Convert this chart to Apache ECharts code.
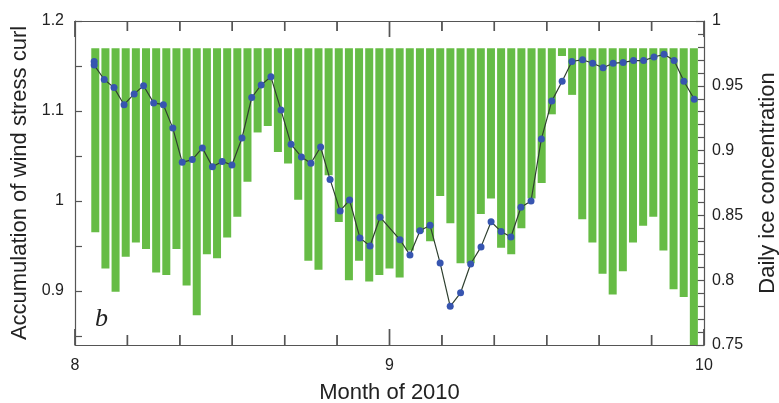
<!DOCTYPE html>
<html>
<head>
<meta charset="utf-8">
<script src="https://cdn.jsdelivr.net/npm/echarts@6/dist/echarts.min.js"></script>
<style>
  html, body { margin: 0; padding: 0; background: #fff; }
  #chart { width: 779px; height: 403px; }
</style>
</head>
<body>
<div id="chart"></div>
<script>
// Daily ice concentration (right axis), one bar per day, hanging from the top level
const barDays = [];
for (let k = 1; k <= 60; k++) barDays.push(k);
const iceConcentration = [
  0.837, 0.809, 0.791, 0.818, 0.829, 0.824, 0.806, 0.804, 0.824, 0.796,
  0.773, 0.820, 0.817, 0.833, 0.849, 0.876, 0.914, 0.919, 0.899, 0.890,
  0.862, 0.815, 0.808, 0.881, 0.845, 0.800, 0.815, 0.799, 0.804, 0.809,
  0.802, 0.823, 0.837, 0.830, 0.865, 0.844, 0.813, 0.813, 0.851, 0.863,
  0.825, 0.820, 0.840, 0.863, 0.875, 0.928, 0.973, 0.943, 0.847, 0.829,
  0.805, 0.789, 0.807, 0.829, 0.842, 0.849, 0.823, 0.793, 0.787, 0.750
];
const barTop = 0.979;

// Accumulated wind stress curl (left axis): month position and value
const curlMonth = [
  8.061, 8.061, 8.093, 8.124, 8.156, 8.188, 8.218, 8.250, 8.281, 8.311,
  8.341, 8.373, 8.405, 8.437, 8.468, 8.499, 8.531, 8.562, 8.592, 8.623,
  8.655, 8.687, 8.720, 8.750, 8.781, 8.811, 8.843, 8.873, 8.906, 8.938,
  8.970, 9.033, 9.065, 9.097, 9.129, 9.161, 9.193, 9.226, 9.258, 9.291,
  9.323, 9.355, 9.386, 9.418, 9.450, 9.483, 9.516, 9.549, 9.580, 9.614,
  9.646, 9.679, 9.711, 9.743, 9.776, 9.808, 9.841, 9.873, 9.905, 9.936,
  9.969
];
const curlValue = [
  1.155, 1.151, 1.135, 1.126, 1.107, 1.119, 1.128, 1.109, 1.107, 1.081,
  1.043, 1.046, 1.059, 1.038, 1.044, 1.040, 1.070, 1.115, 1.129, 1.138,
  1.101, 1.063, 1.049, 1.042, 1.060, 1.024, 0.989, 1.001, 0.959, 0.950,
  0.982, 0.957, 0.940, 0.967, 0.973, 0.931, 0.883, 0.898, 0.930, 0.949,
  0.977, 0.966, 0.960, 0.993, 1.000, 1.069, 1.111, 1.133, 1.155, 1.157,
  1.153, 1.148, 1.153, 1.154, 1.156, 1.156, 1.160, 1.163, 1.156, 1.133,
  1.113
];

// Axis tick positions
const monthTicks = [8, 9, 10];
const monthMinorTicks = [
  8 + 1 / 6, 8 + 2 / 6, 8 + 3 / 6, 8 + 4 / 6, 8 + 5 / 6,
  9 + 1 / 6, 9 + 2 / 6, 9 + 3 / 6, 9 + 4 / 6, 9 + 5 / 6
];
const leftLabelValues = [0.9, 1, 1.1, 1.2];
const leftTickValues = [0.85, 0.9, 0.95, 1, 1.05, 1.1, 1.15, 1.2];

const barX = barDays.map(k => 8 + (k + 1) / 31);
const barData = barX.map((x, i) => [x, iceConcentration[i]]);
const lineData = curlMonth.map((x, i) => [x, curlValue[i]]);

// inward x tick marks on the bottom and top frame: [month, tick length in px]
const xTickList = monthTicks.map(m => [m, 16]).concat(monthMinorTicks.map(m => [m, 10]));
const xTickData = xTickList.map(t => [t[0], 0.75, t[1]]);

const axisColor = '#555';
const textColor = '#222';
const font = 'Liberation Sans, Arial, sans-serif';

const panelLetter = {
  type: 'text', left: 95, top: 306, z: 100,
  style: { text: 'b', font: 'italic 26px "Liberation Serif", "Times New Roman", serif', fill: '#222' }
};

const chart = echarts.init(document.getElementById('chart'), null, { renderer: 'canvas' });
chart.setOption({
  animation: false,
  backgroundColor: '#fff',
  grid: { left: 75, right: 75, top: 21, bottom: 58, outerBoundsMode: 'none' },
  xAxis: [
    {
      type: 'value', min: 8, max: 10, position: 'bottom',
      axisLine: { show: true, onZero: false, lineStyle: { color: axisColor, width: 1.2 } },
      axisTick: { show: false },
      splitLine: { show: false },
      name: 'Month of 2010', nameLocation: 'middle', nameGap: 37,
      nameTextStyle: { fontSize: 22, color: textColor, fontFamily: font },
      axisLabel: { margin: 13, fontSize: 16, color: textColor, fontFamily: font, customValues: monthTicks }
    },
    {
      type: 'value', min: 8, max: 10, position: 'top',
      axisLine: { show: true, onZero: false, lineStyle: { color: axisColor, width: 1.2 } },
      axisTick: { show: false },
      splitLine: { show: false },
      axisLabel: { show: false }
    }
  ],
  yAxis: [
    {
      type: 'value', min: 0.84, max: 1.2, position: 'left',
      name: 'Accumulation of wind stress curl', nameLocation: 'middle', nameGap: 38,
      nameRotate: 90,
      nameTextStyle: { fontSize: 22, color: textColor, fontFamily: font },
      axisLine: { show: true, lineStyle: { color: axisColor, width: 1.2 } },
      axisTick: { show: true, inside: true, length: 7, customValues: leftTickValues,
        lineStyle: { color: axisColor, width: 1.2 } },
      axisLabel: { margin: 11, fontSize: 16, color: textColor, fontFamily: font,
        customValues: leftLabelValues },
      splitLine: { show: false }
    },
    {
      type: 'value', min: 0.75, max: 1, interval: 0.05, position: 'right',
      name: 'Daily ice concentration', nameLocation: 'middle', nameGap: 53,
      nameRotate: 90,
      nameTextStyle: { fontSize: 22, color: textColor, fontFamily: font },
      axisLine: { show: true, lineStyle: { color: axisColor, width: 1.2 } },
      axisTick: { show: true, inside: true, length: 8, lineStyle: { color: axisColor, width: 1.2 } },
      minorTick: { show: true, splitNumber: 5, length: 6, lineStyle: { color: axisColor, width: 1.2 } },
      axisLabel: { margin: 8, fontSize: 16, color: textColor, fontFamily: font },
      splitLine: { show: false },
      minorSplitLine: { show: false }
    }
  ],
  graphic: [panelLetter],
  series: [
    {
      // ice concentration bars hanging down from the top level
      type: 'custom',
      xAxisIndex: 0, yAxisIndex: 1, z: 1,
      data: barData,
      renderItem: function (params, api) {
        const x = api.value(0);
        const v = api.value(1);
        const topPt = api.coord([x, barTop]);
        const botPt = api.coord([x, v]);
        const w = api.size([1 / 31, 0])[0] * 0.79;
        return {
          type: 'rect',
          shape: { x: topPt[0] - w / 2, y: topPt[1], width: w, height: botPt[1] - topPt[1] },
          style: { fill: '#66bc45' }
        };
      }
    },
    {
      // inward tick marks on the bottom and top frame lines
      type: 'custom',
      xAxisIndex: 0, yAxisIndex: 1, z: 6, silent: true,
      data: xTickData,
      renderItem: function (params, api) {
        const x = api.value(0);
        const len = api.value(2);
        const bot = api.coord([x, 0.75]);
        const tp = api.coord([x, 1]);
        const w = 1.4;
        return {
          type: 'group',
          children: [
            { type: 'rect', shape: { x: bot[0] - w / 2, y: bot[1] - len, width: w, height: len },
              style: { fill: axisColor } },
            { type: 'rect', shape: { x: tp[0] - w / 2, y: tp[1], width: w, height: len },
              style: { fill: axisColor } }
          ]
        };
      }
    },
    {
      type: 'line',
      xAxisIndex: 0, yAxisIndex: 0, z: 5,
      data: lineData,
      symbol: 'circle', symbolSize: 7,
      itemStyle: { color: '#3755b0' },
      lineStyle: { color: '#2f4030', width: 1.2 }
    }
  ]
});

// Tick marks on the top and bottom frame as graphic elements, placed with the axis scales
const yBottom = chart.convertToPixel({ yAxisIndex: 1 }, 0.75);
const yTopEdge = chart.convertToPixel({ yAxisIndex: 1 }, 1);
const tickGraphics = [];
xTickList.forEach(t => {
  const px = chart.convertToPixel({ xAxisIndex: 0 }, t[0]);
  const len = t[1];
  tickGraphics.push({
    type: 'rect', z: 120, silent: true,
    shape: { x: px - 0.7, y: yBottom - len, width: 1.4, height: len },
    style: { fill: axisColor }
  });
  tickGraphics.push({
    type: 'rect', z: 120, silent: true,
    shape: { x: px - 0.7, y: yTopEdge, width: 1.4, height: len },
    style: { fill: axisColor }
  });
});
chart.setOption({ graphic: [panelLetter].concat(tickGraphics) }, { replaceMerge: ['graphic'] });
</script>
</body>
</html>
